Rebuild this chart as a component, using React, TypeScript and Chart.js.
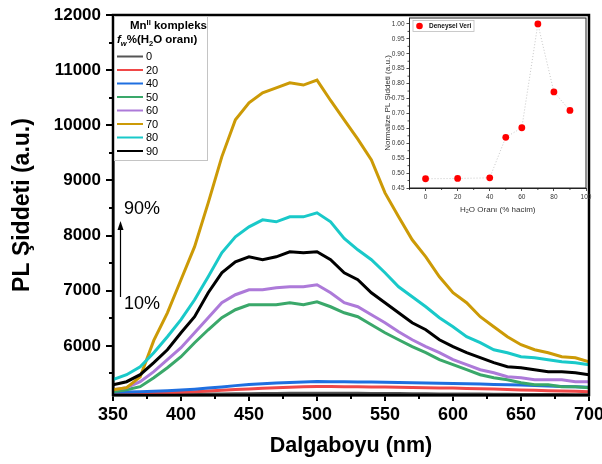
import React, { useEffect, useRef } from 'react';
import { Chart, registerables } from 'chart.js';

Chart.register(...registerables);

const FONT = '"Liberation Sans", Arial, sans-serif';

// ---- Main chart data (every 10 nm) ----
const wavelengths = [350, 360, 370, 380, 390, 400, 410, 420, 430, 440, 450, 460, 470, 480, 490, 500, 510, 520, 530, 540, 550, 560, 570, 580, 590, 600, 610, 620, 630, 640, 650, 660, 670, 680, 690, 700];

const s0 = [5118, 5118, 5120, 5120, 5122, 5124, 5126, 5128, 5130, 5132, 5134, 5136, 5138, 5140, 5140, 5142, 5142, 5140, 5140, 5138, 5138, 5136, 5134, 5132, 5130, 5130, 5128, 5126, 5124, 5122, 5120, 5120, 5118, 5118, 5116, 5116];
const s20 = [5130, 5135, 5140, 5145, 5152, 5160, 5170, 5182, 5195, 5208, 5220, 5232, 5242, 5250, 5258, 5265, 5262, 5260, 5258, 5256, 5255, 5250, 5246, 5242, 5238, 5235, 5230, 5224, 5218, 5210, 5200, 5195, 5188, 5182, 5176, 5170];
const s40 = [5160, 5165, 5170, 5178, 5188, 5200, 5215, 5235, 5255, 5280, 5300, 5315, 5328, 5338, 5346, 5355, 5352, 5350, 5347, 5344, 5340, 5336, 5332, 5328, 5324, 5320, 5315, 5308, 5302, 5296, 5290, 5282, 5274, 5266, 5258, 5250];
const s50 = [5170, 5207, 5261, 5424, 5605, 5804, 6058, 6293, 6511, 6656, 6746, 6746, 6746, 6783, 6746, 6801, 6710, 6601, 6529, 6384, 6239, 6112, 5986, 5877, 5750, 5660, 5569, 5478, 5424, 5388, 5333, 5297, 5297, 5261, 5261, 5243];
const s60 = [5207, 5243, 5351, 5533, 5750, 5967, 6239, 6511, 6783, 6928, 7018, 7018, 7054, 7072, 7072, 7109, 6964, 6783, 6710, 6565, 6420, 6257, 6112, 5986, 5877, 5750, 5660, 5569, 5514, 5442, 5424, 5388, 5388, 5388, 5351, 5351];
const s70 = [5207, 5243, 5440, 6100, 6600, 7200, 7800, 8594, 9428, 10100, 10406, 10590, 10680, 10770, 10730, 10820, 10450, 10100, 9750, 9373, 8775, 8340, 7924, 7616, 7254, 6964, 6783, 6529, 6348, 6167, 6022, 5931, 5877, 5804, 5786, 5714];
const s80 = [5388, 5478, 5623, 5877, 6167, 6475, 6837, 7254, 7688, 7978, 8159, 8286, 8250, 8340, 8340, 8413, 8250, 7950, 7743, 7562, 7326, 7072, 6891, 6710, 6511, 6348, 6167, 6058, 5931, 5877, 5804, 5786, 5750, 5714, 5696, 5660];
const s90 = [5297, 5351, 5478, 5696, 5931, 6239, 6529, 6964, 7326, 7526, 7616, 7562, 7616, 7707, 7688, 7707, 7562, 7326, 7200, 6964, 6783, 6601, 6420, 6293, 6112, 5986, 5877, 5786, 5696, 5623, 5605, 5569, 5533, 5533, 5514, 5478];

const seriesValues = [s0, s20, s40, s50, s60, s70, s80, s90];
const seriesLabels = ['0', '20', '40', '50', '60', '70', '80', '90'];
const seriesColors = ['#555555', '#f04848', '#1f6fe0', '#3aa86a', '#ad7ad9', '#cc9a06', '#19c9c9', '#000000'];

const xTicks = [350, 400, 450, 500, 550, 600, 650, 700];
const xMinorTicks = [375, 425, 475, 525, 575, 625, 675];
const yTicks = [6000, 7000, 8000, 9000, 10000, 11000, 12000];
const yMinorTicks = [5500, 6500, 7500, 8500, 9500, 10500, 11500];
const yMin = 5110;
const yMax = 12000;

// ---- Inset data ----
const insetX = [0, 20, 40, 50, 60, 70, 80, 90];
const insetY = [0.481, 0.482, 0.484, 0.62, 0.652, 1.0, 0.772, 0.71];
const insetXTicks = [0, 20, 40, 60, 80, 100];
const insetXMinor = [-10, 10, 30, 50, 70, 90];
const insetYTicks = [0.45, 0.5, 0.55, 0.6, 0.65, 0.7, 0.75, 0.8, 0.85, 0.9, 0.95, 1.0];
const insetYMinor = [0.475, 0.525, 0.575, 0.625, 0.675, 0.725, 0.775, 0.825, 0.875, 0.925, 0.975];

type Seg = { text: string; font: string; dy?: number };
function drawRich(ctx: CanvasRenderingContext2D, x: number, y: number, segs: Seg[]) {
  let cx = x;
  for (const s of segs) {
    ctx.font = s.font;
    ctx.fillText(s.text, cx, y + (s.dy || 0));
    cx += ctx.measureText(s.text).width;
  }
}

const mainDecor = {
  id: 'mainDecor',
  afterDatasetsDraw(chart: any) {
    const { ctx, chartArea: a, scales } = chart;
    ctx.save();
    ctx.strokeStyle = '#000';
    ctx.lineWidth = 2.5;
    ctx.strokeRect(a.left, a.top, a.right - a.left, a.bottom - a.top);
    ctx.lineWidth = 2;
    ctx.beginPath();
    for (const v of yMinorTicks) {
      const py = Math.round(scales.y.getPixelForValue(v));
      ctx.moveTo(a.left - 4, py);
      ctx.lineTo(a.left, py);
    }
    for (const v of xMinorTicks) {
      const px = Math.round(scales.x.getPixelForValue(v));
      ctx.moveTo(px, a.bottom);
      ctx.lineTo(px, a.bottom + 4);
    }
    ctx.stroke();
    ctx.restore();
  },
  afterDraw(chart: any) {
    const { ctx } = chart;
    ctx.save();
    // legend box
    ctx.fillStyle = '#fff';
    ctx.fillRect(115, 16.5, 92, 143);
    ctx.strokeStyle = '#c4c4c4';
    ctx.lineWidth = 1;
    ctx.strokeRect(114.5, 16.5, 93, 144);
    ctx.fillStyle = '#000';
    ctx.textBaseline = 'alphabetic';
    ctx.textAlign = 'left';
    const b = `bold 11.5px ${FONT}`;
    const bs = `bold 7.5px ${FONT}`;
    drawRich(ctx, 130, 29, [
      { text: 'Mn', font: b },
      { text: 'II', font: bs, dy: -4.5 },
      { text: ' kompleks', font: b },
    ]);
    drawRich(ctx, 117, 43, [
      { text: 'f', font: `italic bold 11.5px ${FONT}` },
      { text: 'w', font: `italic bold 7.5px ${FONT}`, dy: 2.5 },
      { text: '%(H', font: b },
      { text: '2', font: bs, dy: 2.5 },
      { text: 'O oranı)', font: b },
    ]);
    ctx.font = `11px ${FONT}`;
    ctx.textBaseline = 'middle';
    seriesLabels.forEach((lab, i) => {
      const yy = 56.5 + i * 13.5;
      ctx.strokeStyle = seriesColors[i];
      ctx.lineWidth = 2;
      ctx.beginPath();
      ctx.moveTo(117, yy);
      ctx.lineTo(143, yy);
      ctx.stroke();
      ctx.fillStyle = '#000';
      ctx.fillText(lab, 146, yy + 0.5);
    });
    // annotation
    ctx.textBaseline = 'alphabetic';
    ctx.font = `18px ${FONT}`;
    ctx.fillStyle = '#000';
    ctx.fillText('90%', 124, 214);
    ctx.fillText('10%', 124, 309);
    ctx.strokeStyle = '#000';
    ctx.lineWidth = 1.2;
    ctx.beginPath();
    ctx.moveTo(120.5, 297);
    ctx.lineTo(120.5, 228);
    ctx.stroke();
    ctx.beginPath();
    ctx.moveTo(120.5, 221);
    ctx.lineTo(117.5, 230);
    ctx.lineTo(123.5, 230);
    ctx.closePath();
    ctx.fill();
    ctx.restore();
  },
};

const insetDecor = {
  id: 'insetDecor',
  beforeDraw(chart: any) {
    const { ctx, chartArea: a } = chart;
    ctx.save();
    ctx.fillStyle = '#fff';
    ctx.fillRect(a.left, a.top, a.right - a.left, a.bottom - a.top);
    ctx.restore();
  },
  afterDraw(chart: any) {
    const { ctx, chartArea: a, scales } = chart;
    ctx.save();
    ctx.strokeStyle = '#222';
    ctx.lineWidth = 1;
    ctx.strokeRect(a.left, a.top, a.right - a.left, a.bottom - a.top);
    ctx.lineWidth = 0.8;
    ctx.beginPath();
    for (const v of insetYMinor) {
      const py = scales.y.getPixelForValue(v);
      ctx.moveTo(a.left - 2, py);
      ctx.lineTo(a.left, py);
    }
    for (const v of insetXMinor) {
      const px = scales.x.getPixelForValue(v);
      ctx.moveTo(px, a.bottom);
      ctx.lineTo(px, a.bottom + 2);
    }
    ctx.stroke();
    // legend
    ctx.strokeStyle = '#bdbdbd';
    ctx.lineWidth = 0.8;
    ctx.strokeRect(a.left + 3.5, a.top + 2.5, 61, 11);
    ctx.fillStyle = '#ff0000';
    ctx.beginPath();
    ctx.arc(a.left + 10, a.top + 8, 3.3, 0, Math.PI * 2);
    ctx.fill();
    ctx.fillStyle = '#111';
    ctx.font = `bold 6.5px ${FONT}`;
    ctx.textBaseline = 'middle';
    ctx.fillText('Deneysel Veri', a.left + 19.5, a.top + 8.3);
    ctx.restore();
  },
};

export default function App() {
  const mainRef = useRef<HTMLCanvasElement>(null);
  const insetRef = useRef<HTMLCanvasElement>(null);

  useEffect(() => {
    document.body.style.margin = '0';
    const main = new Chart(mainRef.current as HTMLCanvasElement, {
      type: 'line',
      data: {
        datasets: seriesValues.map((vals, i) => ({
          label: seriesLabels[i],
          data: vals.map((v, j) => ({ x: wavelengths[j], y: v })),
          borderColor: seriesColors[i],
          backgroundColor: seriesColors[i],
          borderWidth: 3,
          pointRadius: 0,
          tension: 0,
          fill: false,
          order: 10 - i,
        })),
      },
      options: {
        responsive: false,
        animation: false,
        devicePixelRatio: 1,
        layout: { padding: { left: 0, right: 13, top: 15, bottom: 0 } },
        plugins: { legend: { display: false }, tooltip: { enabled: false } },
        scales: {
          x: {
            type: 'linear',
            min: 350,
            max: 700,
            afterBuildTicks: (s: any) => {
              s.ticks = xTicks.map((v) => ({ value: v }));
            },
            afterFit: (s: any) => {
              s.height = 69;
              s.paddingLeft = 0;
              s.paddingRight = 0;
            },
            ticks: {
              font: { family: FONT, size: 18, weight: 'bold' },
              color: '#000',
              padding: 3,
              maxRotation: 0,
              autoSkip: false,
              callback: (v: any) => String(v),
            },
            grid: { drawOnChartArea: false, drawTicks: true, tickLength: 6, color: '#000', lineWidth: 2 },
            border: { display: true, color: '#000', width: 2.5 },
            title: {
              display: true,
              text: 'Dalgaboyu (nm)',
              font: { family: FONT, size: 21.5, weight: 'bold' },
              color: '#000',
              padding: { top: 0, bottom: 5 },
            },
          },
          y: {
            type: 'linear',
            min: yMin,
            max: yMax,
            afterBuildTicks: (s: any) => {
              s.ticks = yTicks.map((v) => ({ value: v }));
            },
            afterFit: (s: any) => {
              s.width = 113;
              s.paddingTop = 0;
              s.paddingBottom = 0;
            },
            ticks: {
              font: { family: FONT, size: 17, weight: 'bold' },
              color: '#000',
              padding: 5,
              autoSkip: false,
              callback: (v: any) => String(v),
            },
            grid: { drawOnChartArea: false, drawTicks: true, tickLength: 7, color: '#000', lineWidth: 2 },
            border: { display: true, color: '#000', width: 2.5 },
            title: {
              display: true,
              text: 'PL Şiddeti (a.u.)',
              font: { family: FONT, size: 23, weight: 'bold' },
              color: '#000',
              padding: { top: 9, bottom: 0 },
            },
          },
        },
      },
      plugins: [mainDecor],
    } as any);

    const inset = new Chart(insetRef.current as HTMLCanvasElement, {
      type: 'line',
      data: {
        datasets: [
          {
            label: 'Deneysel Veri',
            data: insetX.map((x, i) => ({ x, y: insetY[i] })),
            borderColor: '#c8c8c8',
            borderWidth: 1,
            borderDash: [1, 2],
            pointRadius: 3.4,
            pointBackgroundColor: '#ff0000',
            pointBorderColor: '#ff0000',
            pointBorderWidth: 0,
            tension: 0,
            fill: false,
          },
        ],
      },
      options: {
        responsive: false,
        animation: false,
        devicePixelRatio: 1,
        layout: { padding: { left: 0, right: 14, top: 18, bottom: 0 } },
        plugins: { legend: { display: false }, tooltip: { enabled: false } },
        scales: {
          x: {
            type: 'linear',
            min: -10,
            max: 100,
            afterBuildTicks: (s: any) => {
              s.ticks = insetXTicks.map((v) => ({ value: v }));
            },
            afterFit: (s: any) => {
              s.height = 42;
              s.paddingLeft = 0;
              s.paddingRight = 0;
            },
            ticks: { font: { family: FONT, size: 6.5 }, color: '#333', padding: 2, maxRotation: 0, autoSkip: false },
            grid: { drawOnChartArea: false, drawTicks: true, tickLength: 3, color: '#222', lineWidth: 0.8 },
            border: { display: true, color: '#222', width: 1 },
            title: {
              display: true,
              text: 'H₂O Oranı (% hacim)',
              font: { family: FONT, size: 8 },
              color: '#333',
              padding: { top: 0, bottom: 15 },
            },
          },
          y: {
            type: 'linear',
            min: 0.45,
            max: 1.02,
            afterBuildTicks: (s: any) => {
              s.ticks = insetYTicks.map((v) => ({ value: v }));
            },
            afterFit: (s: any) => {
              s.width = 39.5;
              s.paddingTop = 0;
              s.paddingBottom = 0;
            },
            ticks: {
              font: { family: FONT, size: 6.5 },
              color: '#333',
              padding: 2,
              autoSkip: false,
              callback: (v: any) => Number(v).toFixed(2),
            },
            grid: { drawOnChartArea: false, drawTicks: true, tickLength: 3, color: '#222', lineWidth: 0.8 },
            border: { display: true, color: '#222', width: 1 },
            title: {
              display: true,
              text: 'Normalize PL Şiddeti (a.u.)',
              font: { family: FONT, size: 8 },
              color: '#333',
              padding: { top: 13, bottom: 0 },
            },
          },
        },
      },
      plugins: [insetDecor],
    } as any);

    return () => {
      main.destroy();
      inset.destroy();
    };
  }, []);

  return (
    <div style={{ position: 'absolute', left: 0, top: 0, width: 602, height: 464, background: '#fff' }}>
      <canvas ref={mainRef} width={602} height={464} style={{ position: 'absolute', left: 0, top: 0, width: 602, height: 464 }} />
      <canvas ref={insetRef} width={230} height={230} style={{ position: 'absolute', left: 370, top: 0, width: 230, height: 230 }} />
    </div>
  );
}
